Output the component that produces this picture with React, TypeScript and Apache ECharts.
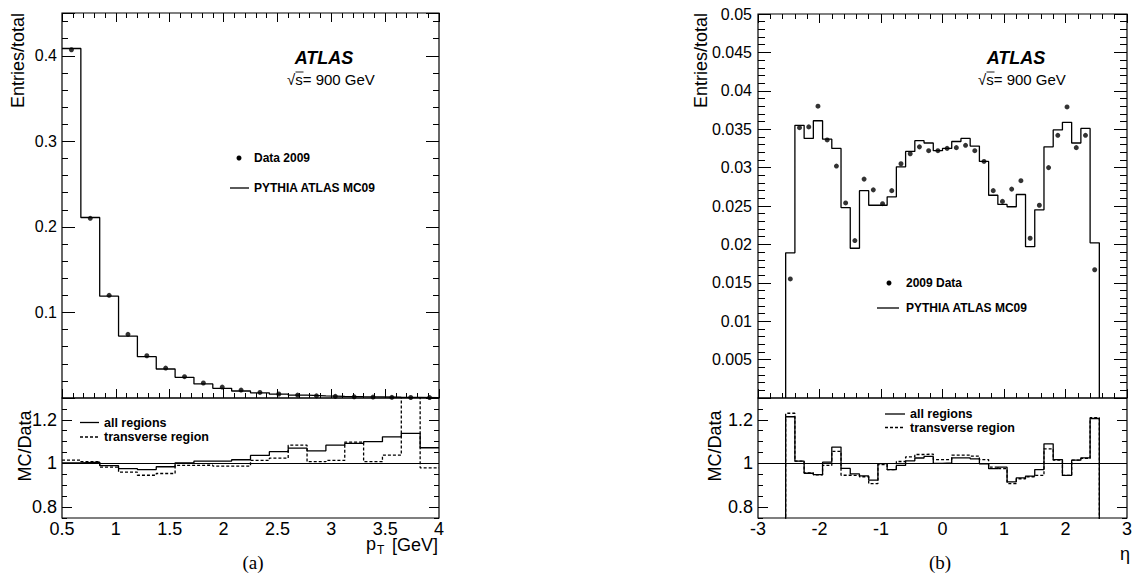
import React, { useEffect, useRef } from "react";
import * as echarts from "echarts";

// ---------- data: panel (a), pT ----------
const PT_MIN = 0.5;
const PT_BIN = 0.175;
const ptMC = [0.4085, 0.211, 0.119, 0.0724, 0.0483, 0.0339, 0.0242, 0.0164, 0.0113, 0.0082, 0.006, 0.0045, 0.0034, 0.0026, 0.002, 0.0015, 0.0012, 0.0009, 0.0007, 0.0005];
const ptData = [0.407, 0.21, 0.12, 0.0744, 0.0494, 0.035, 0.0249, 0.0175, 0.0128, 0.0093, 0.0065, 0.0047, 0.0034, 0.0025, 0.0019, 0.0014, 0.0011, 0.0008, 0.0006, 0.0005];
const ptRatioAll = [1.003, 1.006, 0.99, 0.976, 0.972, 0.985, 1.003, 1.011, 1.011, 1.017, 1.037, 1.054, 1.07, 1.058, 1.084, 1.092, 1.1, 1.122, 1.138, 1.072];
const ptRatioTrans = [1.015, 1.008, 0.983, 0.96, 0.946, 0.954, 0.991, 0.992, 0.988, 0.988, 1.014, 1.024, 1.084, 1.008, 1.014, 1.098, 1.008, 1.038, 1.5, 0.98];

// ---------- data: panel (b), eta ----------
const ETA_MIN = -2.55;
const ETA_BIN = 0.15;
const etaMC = [0.0189, 0.0355, 0.0338, 0.0361, 0.0337, 0.0325, 0.0248, 0.0195, 0.027, 0.0251, 0.0251, 0.0262, 0.0301, 0.0321, 0.0335, 0.0332, 0.0322, 0.0325, 0.0334, 0.0338, 0.0328, 0.0308, 0.0264, 0.0252, 0.0249, 0.0265, 0.0197, 0.0245, 0.0327, 0.0349, 0.0359, 0.0332, 0.0351, 0.0202];
const etaData = [0.0155, 0.0352, 0.0353, 0.038, 0.0336, 0.0302, 0.0254, 0.0205, 0.0285, 0.0271, 0.0253, 0.027, 0.0305, 0.0318, 0.0327, 0.0322, 0.0322, 0.0325, 0.0326, 0.0329, 0.0322, 0.0308, 0.027, 0.0256, 0.0272, 0.0283, 0.0208, 0.0251, 0.03, 0.0342, 0.0379, 0.0326, 0.0342, 0.0167];
const etaRatioAll = [1.214, 1.011, 0.955, 0.949, 1.006, 1.075, 0.977, 0.952, 0.943, 0.924, 0.999, 0.972, 0.991, 1.012, 1.025, 1.032, 1.0, 1.003, 1.026, 1.026, 1.021, 0.998, 0.976, 0.983, 0.916, 0.934, 0.942, 0.972, 1.09, 1.018, 0.945, 1.015, 1.026, 1.206];
const etaRatioTrans = [1.23, 1.011, 0.957, 0.948, 0.991, 1.055, 0.946, 0.945, 0.939, 0.908, 0.995, 0.972, 1.009, 1.03, 1.041, 1.043, 1.018, 1.018, 1.038, 1.038, 1.034, 1.018, 0.983, 0.976, 0.908, 0.93, 0.939, 0.945, 1.067, 1.015, 0.945, 1.015, 1.023, 1.21];

// ---------- tick labels ----------
const ratioMajorTicks = [0.8, 1.0, 1.2];

const FONT = '"Liberation Sans", Arial, Helvetica, sans-serif';
const SERIF = '"Liberation Serif", "DejaVu Serif", serif';

function steps(lo: number, w: number, vals: number[], closeToZero: boolean) {
  const pts: number[][] = [];
  if (closeToZero) pts.push([lo, 0]);
  vals.forEach((v, i) => {
    pts.push([lo + i * w, v]);
    pts.push([lo + (i + 1) * w, v]);
  });
  if (closeToZero) pts.push([lo + vals.length * w, 0]);
  return pts;
}
function centers(lo: number, w: number, vals: number[]) {
  return vals.map((v, i) => [lo + (i + 0.5) * w, v]);
}
const fmt = (v: number) => String(Math.round(v * 100000) / 100000);

const tickStyle = { color: "#000", width: 1 };

function xAx(grid: number, pos: string, min: number, max: number, interval: number, opts: any) {
  return {
    type: "value",
    gridIndex: grid,
    position: pos,
    min,
    max,
    interval,
    axisLine: { show: false, onZero: false },
    axisTick: { show: opts.ticks, inside: true, length: opts.majorLen || 9, lineStyle: tickStyle },
    minorTick: { show: opts.ticks, splitNumber: 5, length: opts.minorLen || 5, lineStyle: tickStyle },
    axisLabel: opts.labels
      ? { show: true, fontSize: 18, lineHeight: 14, fontFamily: FONT, color: "#000", margin: 4, formatter: fmt, showMinLabel: true, showMaxLabel: true }
      : { show: false },
    splitLine: { show: false },
    minorSplitLine: { show: false },
  };
}

function yAx(grid: number, pos: string, min: number, max: number, o: any) {
  const a: any = {
    type: "value",
    gridIndex: grid,
    position: pos,
    min,
    max,
    axisLine: { show: false, onZero: false },
    axisTick: { show: true, inside: true, length: o.len, lineStyle: tickStyle },
    minorTick: { show: !!o.minorSplit, splitNumber: o.minorSplit || 5, length: o.minorLen || 5, lineStyle: tickStyle },
    axisLabel: { show: false },
    splitLine: { show: false },
    minorSplitLine: { show: false },
  };
  if (o.interval) a.interval = o.interval;
  if (o.customValues) a.axisTick.customValues = o.customValues;
  if (o.label) {
    a.axisLabel = {
      show: true,
      fontSize: o.label.fontSize,
      fontFamily: FONT,
      color: "#000",
      margin: o.label.margin,
      formatter: o.label.formatter,
      showMinLabel: true,
      showMaxLabel: true,
    };
    if (o.customValues) a.axisLabel.customValues = o.customValues;
  }
  return a;
}

export default function App() {
  const ref = useRef<HTMLDivElement>(null);
  useEffect(() => {
    if (!ref.current) return;
    const chart = echarts.init(ref.current, null, { renderer: "svg" });

    const grids = [
      { left: 62, top: 13, width: 377, height: 385 },
      { left: 62, top: 398, width: 377, height: 120 },
      { left: 758, top: 14, width: 369, height: 384 },
      { left: 758, top: 398, width: 369, height: 120 },
    ].map((g) => ({ ...g, show: true, borderColor: "#000", borderWidth: 1.2, backgroundColor: "transparent" }));

    const xAxis: any[] = [];
    const yAxis: any[] = [];
    const addX = (a: any) => (xAxis.push(a), xAxis.length - 1);
    const addY = (a: any) => (yAxis.push(a), yAxis.length - 1);

    // panel (a) main
    const xa0 = addX(xAx(0, "bottom", 0.5, 4, 0.5, { ticks: true, majorLen: 9, minorLen: 5 }));
    addX(xAx(0, "top", 0.5, 4, 0.5, { ticks: true, majorLen: 9, minorLen: 5 }));
    const ya0 = addY(
      yAx(0, "left", 0, 0.45, {
        interval: 0.1,
        len: 13,
        label: {
          fontSize: 16,
          margin: 5,
          formatter: (v: number) => (v === 0 || Math.abs(v * 10 - Math.round(v * 10)) > 1e-6 ? "" : fmt(v)),
        },
      })
    );
    addY(yAx(0, "left", 0, 0.45, { interval: 0.02, len: 6 }));
    addY(yAx(0, "right", 0, 0.45, { interval: 0.1, len: 13 }));
    addY(yAx(0, "right", 0, 0.45, { interval: 0.02, len: 6 }));

    // panel (a) ratio
    const xa1 = addX(xAx(1, "bottom", 0.5, 4, 0.5, { ticks: false, labels: true }));
    const ya1 = addY(
      yAx(1, "left", 0.75, 1.3, { customValues: ratioMajorTicks, len: 10, label: { fontSize: 18, margin: 5, formatter: fmt } })
    );
    addY(yAx(1, "left", 0.75, 1.3, { interval: 0.05, len: 5 }));
    addY(yAx(1, "right", 0.75, 1.3, { customValues: ratioMajorTicks, len: 10 }));
    addY(yAx(1, "right", 0.75, 1.3, { interval: 0.05, len: 5 }));

    // panel (b) main
    const xb0 = addX(xAx(2, "bottom", -3, 3, 1, { ticks: true, majorLen: 9, minorLen: 5 }));
    addX(xAx(2, "top", -3, 3, 1, { ticks: true, majorLen: 9, minorLen: 5 }));
    const yb0 = addY(
      yAx(2, "left", 0, 0.05, {
        interval: 0.005,
        len: 13,
        minorSplit: 5,
        minorLen: 7,
        label: { fontSize: 16, margin: 6, formatter: (v: number) => (v === 0 ? "" : fmt(v)) },
      })
    );
    addY(yAx(2, "right", 0, 0.05, { interval: 0.005, len: 13, minorSplit: 5, minorLen: 7 }));

    // panel (b) ratio
    const xb1 = addX(xAx(3, "bottom", -3, 3, 1, { ticks: false, labels: true }));
    const yb1 = addY(
      yAx(3, "left", 0.75, 1.3, { customValues: ratioMajorTicks, len: 10, label: { fontSize: 18, margin: 5, formatter: fmt } })
    );
    addY(yAx(3, "left", 0.75, 1.3, { interval: 0.05, len: 5 }));
    addY(yAx(3, "right", 0.75, 1.3, { customValues: ratioMajorTicks, len: 10 }));
    addY(yAx(3, "right", 0.75, 1.3, { interval: 0.05, len: 5 }));

    const solid = { color: "#000", width: 1.3 };
    const dotted = { color: "#000", width: 1.3, type: [3, 2] as any };
    const unity = {
      silent: true,
      symbol: ["none", "none"],
      label: { show: false },
      lineStyle: { color: "#000", width: 1, type: "solid" },
      data: [{ yAxis: 1 }],
    };
    const line = (xi: number, yi: number, data: number[][], style: any, extra: any = {}) => ({
      type: "line",
      xAxisIndex: xi,
      yAxisIndex: yi,
      data,
      symbol: "none",
      lineStyle: style,
      silent: true,
      z: 3,
      ...extra,
    });
    const dots = (xi: number, yi: number, data: number[][]) => ({
      type: "scatter",
      xAxisIndex: xi,
      yAxisIndex: yi,
      data,
      symbol: "circle",
      symbolSize: 5,
      itemStyle: { color: "#000" },
      silent: true,
      z: 4,
    });

    const series = [
      line(xa0, ya0, steps(PT_MIN, PT_BIN, ptMC, false), solid),
      dots(xa0, ya0, centers(PT_MIN, PT_BIN, ptData)),
      line(xa1, ya1, steps(PT_MIN, PT_BIN, ptRatioTrans, false), dotted),
      line(xa1, ya1, steps(PT_MIN, PT_BIN, ptRatioAll, false), solid, { markLine: unity }),
      line(xb0, yb0, steps(ETA_MIN, ETA_BIN, etaMC, true), solid),
      dots(xb0, yb0, centers(ETA_MIN, ETA_BIN, etaData)),
      line(xb1, yb1, steps(ETA_MIN, ETA_BIN, etaRatioTrans, true), dotted),
      line(xb1, yb1, steps(ETA_MIN, ETA_BIN, etaRatioAll, true), solid, { markLine: unity }),
    ];

    const txt = (text: string, x: number, y: number, font: string, align = "left", extra: any = {}, lh?: number) => ({
      type: "text",
      x,
      y,
      silent: true,
      ...extra,
      style: {
        text,
        font,
        fill: "#000",
        align,
        verticalAlign: "middle",
        textAlign: align,
        textVerticalAlign: "middle",
        ...(lh ? { lineHeight: lh } : {}),
      },
    });
    const hline = (x1: number, x2: number, y: number, dash?: number[], w = 1.3) => ({
      type: "line",
      silent: true,
      shape: { x1, y1: y, x2, y2: y },
      style: { stroke: "#000", lineWidth: w, lineDash: dash },
    });
    const dot = (cx: number, cy: number) => ({ type: "circle", silent: true, shape: { cx, cy, r: 2.5 }, style: { fill: "#000" } });

    const bold12 = `bold 12px ${FONT}`;
    const bold13 = `bold 12.5px ${FONT}`;
    const graphic = [
      // panel (a)
      txt("ATLAS", 324, 58, `italic bold 18px ${FONT}`, "center"),
      txt("√s= 900 GeV", 287, 79, `15px ${FONT}`, "left"),
      hline(295.5, 303.5, 72, undefined, 0.9),
      dot(239, 158),
      txt("Data 2009", 254, 158, bold12),
      hline(230, 249, 188),
      txt("PYTHIA ATLAS MC09", 254, 188, bold12),
      hline(80, 99, 422.5),
      txt("all regions", 104, 422.5, bold13),
      hline(80, 99, 437, [3, 2]),
      txt("transverse region", 104, 437, bold13),
      txt("Entries/total", 18, 13, `18px ${FONT}`, "right", { rotation: Math.PI / 2 }),
      txt("MC/Data", 25, 446, `18px ${FONT}`, "center", { rotation: Math.PI / 2 }),
      txt("[GeV]", 438, 545, `18px ${FONT}`, "right", {}, 14),
      txt("T", 377, 550, `12px ${FONT}`, "left", {}, 10),
      txt("p", 376, 544, `18px ${FONT}`, "right", {}, 14),
      txt("(a)", 253, 562, `19px ${SERIF}`, "center"),
      // panel (b)
      txt("ATLAS", 1016, 58, `italic bold 18px ${FONT}`, "center"),
      txt("√s= 900 GeV", 978, 79, `15px ${FONT}`, "left"),
      hline(986.5, 994.5, 72, undefined, 0.9),
      dot(889, 283),
      txt("2009 Data", 906, 283, bold12),
      hline(877, 899, 308),
      txt("PYTHIA ATLAS MC09", 906, 308, bold12),
      hline(885, 905, 414),
      txt("all regions", 910, 414, bold13),
      hline(885, 905, 427.5, [3, 2]),
      txt("transverse region", 910, 427.5, bold13),
      txt("Entries/total", 701, 13, `18px ${FONT}`, "right", { rotation: Math.PI / 2 }),
      txt("MC/Data", 715, 446, `18px ${FONT}`, "center", { rotation: Math.PI / 2 }),
      txt("η", 1125, 554, `18px ${FONT}`, "center"),
      txt("(b)", 940, 562, `19px ${SERIF}`, "center"),
    ];

    chart.setOption({
      animation: false,
      backgroundColor: "#fff",
      grid: grids,
      xAxis,
      yAxis,
      series,
      graphic,
    });
    return () => chart.dispose();
  }, []);
  return <div ref={ref} style={{ position: "fixed", left: 0, top: 0, width: 1135, height: 581 }} />;
}
